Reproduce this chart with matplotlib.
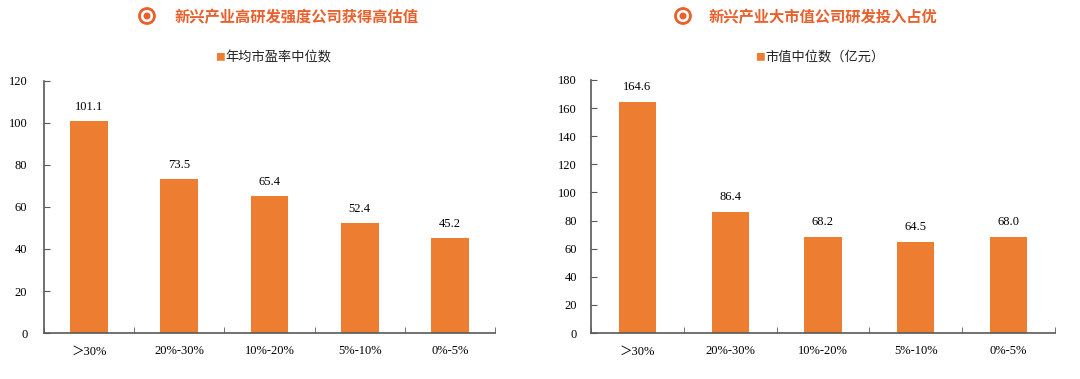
import matplotlib
matplotlib.use("Agg")
import matplotlib.pyplot as plt
from matplotlib.patches import Ellipse

categories = ["＞30%", "20%-30%", "10%-20%", "5%-10%", "0%-5%"]
pe_median = [101.1, 73.5, 65.4, 52.4, 45.2]
mv_median = [164.6, 86.4, 68.2, 64.5, 68.0]

title_left = "新兴产业高研发强度公司获得高估值"
title_right = "新兴产业大市值公司研发投入占优"
legend_left = "年均市盈率中位数"
legend_right = "市值中位数（亿元）"

BAR = "#ED7D31"
TITLE_C = "#E8602C"
CJK = ["Noto Sans CJK SC", "DejaVu Sans"]
SERIF = ["Liberation Serif", "Noto Sans CJK SC"]

fig = plt.figure(figsize=(10.8, 3.79), dpi=100)
W, H = 1080, 379

def make_ax(x0, x1, ytop, ybot):
    return fig.add_axes([x0 / W, 1 - ybot / H, (x1 - x0) / W, (ybot - ytop) / H])

axL = make_ax(44, 495, 81, 333)
axR = make_ax(591, 1055, 80, 333)

def draw(ax, vals, ymax, step, label_off, ypad, bw):
    x = list(range(len(categories)))
    ax.bar(x, vals, width=bw, color=BAR, zorder=2)
    ax.set_xlim(-0.5, len(categories) - 0.5)
    ax.set_ylim(0, ymax)
    ax.set_yticks(range(0, ymax + 1, step))
    ax.set_yticklabels([str(v) for v in range(0, ymax + 1, step)], family=SERIF, fontsize=9)
    ax.set_xticks(x)
    ax.set_xticklabels(categories, family=SERIF, fontsize=9)
    ax.set_xticks([i - 0.5 for i in range(len(categories) + 1)], minor=True)
    ax.tick_params(axis="x", which="major", length=0, pad=9)
    ax.tick_params(axis="x", which="minor", length=4, direction="in", color="#595959")
    ax.tick_params(axis="y", length=4, direction="in", color="#595959", pad=ypad)
    for s in ["top", "right"]:
        ax.spines[s].set_visible(False)
    for s in ["left", "bottom"]:
        ax.spines[s].set_color("#595959")
        ax.spines[s].set_linewidth(1.2)
    for i, v in enumerate(vals):
        ax.annotate(f"{v:.1f}", (i, v), xytext=(0, label_off), textcoords="offset pixels",
                    ha="center", va="center", family=SERIF, fontsize=9)

draw(axL, pe_median, 120, 20, 14, 12, 0.42)
draw(axR, mv_median, 180, 20, 15, 10, 0.40)

def header(cx, tx, title, lx, legend):
    fig.add_artist(Ellipse((cx / W, 1 - 16 / H), 15 / W, 15 / H, transform=fig.transFigure,
                           fill=False, edgecolor=TITLE_C, linewidth=2.0))
    fig.add_artist(Ellipse((cx / W, 1 - 16 / H), 7 / W, 7 / H, transform=fig.transFigure,
                           facecolor=TITLE_C, edgecolor="none"))
    fig.text(tx / W, 1 - 17 / H, title, family=CJK, fontsize=11, fontweight="bold",
             color=TITLE_C, ha="left", va="center")
    fig.text(lx / W, 1 - 57 / H, "■", family=CJK, fontsize=7, color=BAR, ha="left", va="center")
    fig.text((lx + 10) / W, 1 - 57 / H, legend, family=CJK, fontsize=9.5, color="#222222",
             ha="left", va="center")

header(147, 175, title_left, 215, legend_left)
header(683, 709, title_right, 755, legend_right)

fig.savefig("out.png", dpi=100)
